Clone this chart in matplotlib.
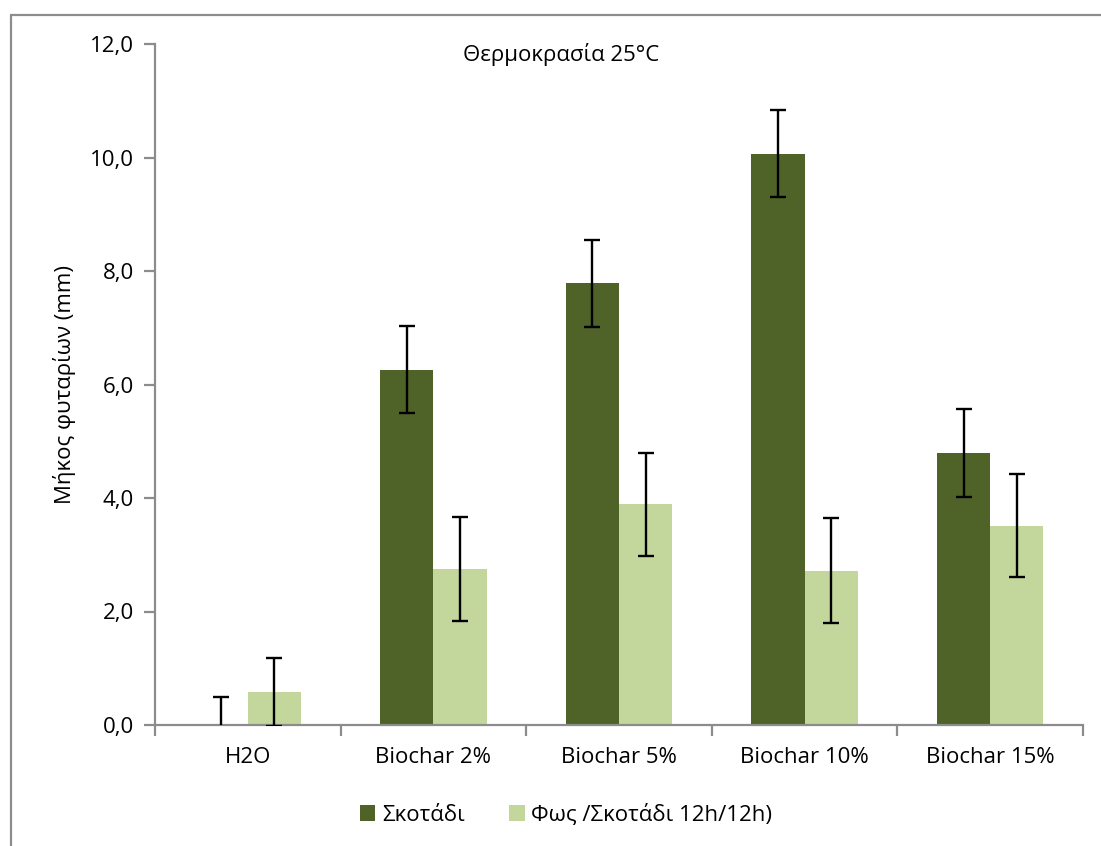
import matplotlib
matplotlib.use("Agg")
import matplotlib.pyplot as plt
import numpy as np
from matplotlib.patches import Rectangle

categories = ["H2O", "Biochar 2%", "Biochar 5%", "Biochar 10%", "Biochar 15%"]
dark_vals = [0.0, 6.26, 7.78, 10.07, 4.79]
dark_err = [0.49, 0.77, 0.77, 0.77, 0.77]
light_vals = [0.58, 2.75, 3.89, 2.72, 3.51]
light_err = [0.60, 0.92, 0.91, 0.92, 0.91]
series_names = ["Σκοτάδι", "Φως /Σκοτάδι 12h/12h)"]
yticks = [0, 2, 4, 6, 8, 10, 12]

plt.rcParams['font.family'] = ['Open Sans', 'DejaVu Sans']

W, H = 1101, 846
fig = plt.figure(figsize=(W / 100, H / 100), dpi=100)
ax = fig.add_axes([155 / W, 1 - 725 / H, (1083 - 155) / W, (725 - 44) / H])

dark_c = "#4F6228"
light_c = "#C3D69B"
gray = "#8C8C8C"
fs = 16

x = np.arange(len(categories))
bw = 0.287
ax.bar(x - bw / 2, dark_vals, bw, color=dark_c, label=series_names[0], zorder=2)
ax.bar(x + bw / 2, light_vals, bw, color=light_c, label=series_names[1], zorder=2)
ax.errorbar(x - bw / 2, dark_vals, yerr=dark_err, fmt='none', ecolor='black',
            elinewidth=1.7, capsize=6, capthick=1.7, zorder=3)
ax.errorbar(x + bw / 2, light_vals, yerr=light_err, fmt='none', ecolor='black',
            elinewidth=1.7, capsize=6, capthick=1.7, zorder=3)

ax.set_xlim(-0.5, len(categories) - 0.5)
ax.set_ylim(0, 12)
ax.set_yticks(yticks)
ax.set_yticklabels([f"{v:.1f}".replace('.', ',') for v in yticks], fontsize=fs)
ax.set_xticks(x)
ax.set_xticklabels(categories, fontsize=fs)
ax.tick_params(axis='x', length=0, pad=16)
ax.set_xticks(np.arange(len(categories) + 1) - 0.5, minor=True)
ax.tick_params(axis='x', which='minor', length=8, width=1.6, color=gray)
ax.tick_params(axis='y', length=8, width=1.6, color=gray, pad=7)

for s in ['top', 'right']:
    ax.spines[s].set_visible(False)
for s in ['left', 'bottom']:
    ax.spines[s].set_color(gray)
    ax.spines[s].set_linewidth(1.6)

ax.set_ylabel("Μήκος φυταρίων (mm)", fontsize=fs, va='center')
ax.yaxis.set_label_coords(-(155 - 64) / (1083 - 155), 0.5)

fig.text(561 / W, 1 - 55 / H, "Θερμοκρασία 25°C", ha='center', va='center', fontsize=fs)

fig.legend(loc='center', bbox_to_anchor=(566 / W, 1 - 815 / H), ncol=2, frameon=False,
           fontsize=fs, handlelength=0.7, handleheight=0.7, handletextpad=0.3,
           columnspacing=2.0)

fig.patches.append(Rectangle((11 / W, -0.1), 1.2, 1 - 15 / H + 0.1, transform=fig.transFigure,
                             fill=False, edgecolor=gray, linewidth=1.6))

fig.savefig("out.png", dpi=100)
